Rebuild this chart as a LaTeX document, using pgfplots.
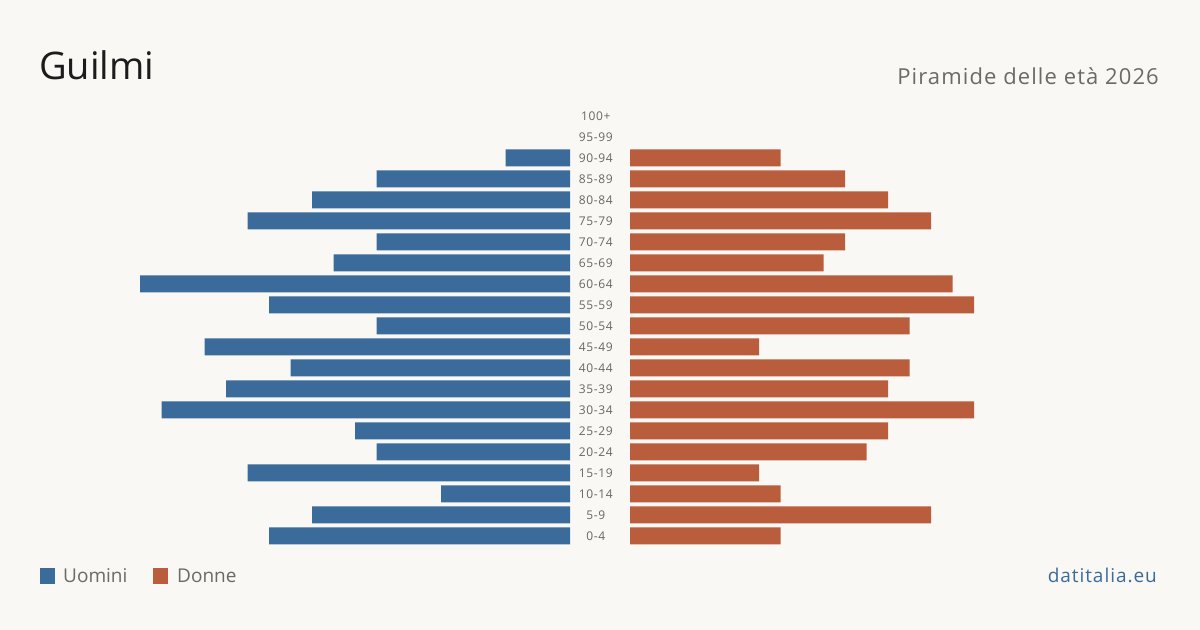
\documentclass[border=0pt]{standalone}
\usepackage{pgfplots}
\pgfplotsset{compat=1.18}
\usepackage{pgfplotstable}
\usepackage{fontspec}
\setmainfont{Open Sans}
\newfontfamily\widefont[LetterSpace=5]{Open Sans}

\definecolor{bgcol}{HTML}{F9F8F4}
\definecolor{uomini}{HTML}{3B6B9B}
\definecolor{donne}{HTML}{B95D3C}
\definecolor{titlecol}{HTML}{1C1C1C}
\definecolor{subcol}{HTML}{6A6A6A}
\definecolor{tickcol}{HTML}{666666}

% age class index (0 = 0-4 ... 20 = 100+), men, women
\pgfplotstableread{
idx uomini donne
0   14 7
1   12 14
2   6  7
3   15 6
4   9  11
5   10 12
6   19 16
7   16 12
8   13 13
9   17 6
10  9  13
11  14 16
12  20 15
13  11 9
14  9  10
15  15 14
16  12 12
17  9  10
18  3  7
19  0  0
20  0  0
}\pyramid

\pgfplotsset{
  pyr/.style={
    scale only axis,
    width=430bp, height=441bp,
    xmin=0, xmax=20,
    ymin=-0.5, ymax=20.5,
    xbar, bar width=17bp,
    axis x line=none,
    axis y line*=left,
    axis line style={draw=none},
    ytick style={draw=none},
    ytick={0,...,20},
    clip=false,
    % empty classes get no bar at all
    x filter/.expression={x==0 ? nan : x},
    unbounded coords=discard,
  }
}

\begin{document}
\begin{tikzpicture}[x=1bp,y=1bp]
\fill[bgcol] (0,0) rectangle (1200,630);

% men, growing leftwards from the centre
\begin{axis}[pyr, x dir=reverse, at={(570bp,83.5bp)}, anchor=south east,
  yticklabels={}]
\addplot[fill=uomini, draw=none] table[x=uomini, y=idx] {\pyramid};
\end{axis}

% women, growing rightwards, age labels in the central gap
\begin{axis}[pyr, at={(630bp,83.5bp)}, anchor=south west,
  yticklabels={0-4,5-9,10-14,15-19,20-24,25-29,30-34,35-39,40-44,45-49,50-54,55-59,60-64,65-69,70-74,75-79,80-84,85-89,90-94,95-99,100+},
  yticklabel style={anchor=center, xshift=-30bp, inner sep=0pt,
    font=\widefont\fontsize{12bp}{14bp}\selectfont, text=tickcol}]
\addplot[fill=donne, draw=none] table[x=donne, y=idx] {\pyramid};
\end{axis}

% titles
\node[anchor=base west, inner sep=0pt, text=titlecol,
  font=\fontsize{38bp}{46bp}\selectfont] at (39,550) {Guilmi};
\node[anchor=base east, inner sep=0pt, text=subcol,
  font=\widefont\fontsize{22bp}{26bp}\selectfont] at (1159,545) {Piramide delle età 2026};

% legend
\fill[uomini] (40,46) rectangle (55,62);
\node[anchor=base west, inner sep=0pt, text=subcol,
  font=\fontsize{19bp}{22bp}\selectfont] at (63,47) {Uomini};
\fill[donne] (153,46) rectangle (168,62);
\node[anchor=base west, inner sep=0pt, text=subcol,
  font=\fontsize{19bp}{22bp}\selectfont] at (177,47) {Donne};

% source
\node[anchor=base east, inner sep=0pt, text=uomini,
  font=\widefont\fontsize{19bp}{22bp}\selectfont] at (1157,47) {datitalia.eu};
\end{tikzpicture}
\end{document}
